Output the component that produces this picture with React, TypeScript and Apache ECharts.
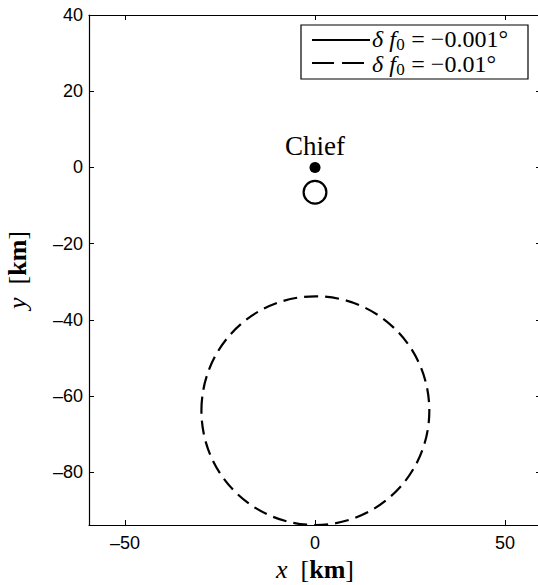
import React, { useEffect, useRef } from "react";
import * as echarts from "echarts";

// ---- data ----
const xTicks = [-50, 0, 50];
const yTicks = [-80, -60, -40, -20, 0, 20, 40];
const xRange = [-59.5, 59.5];
const yRange = [-93.8, 40];

const orbitValues = ["−0.001°", "−0.01°"];
const orbitCenterX = [0, 0.1];
const orbitCenterY = [-6.5, -63.8];
const orbitRadius = [3, 30];
const orbitDash = [false, true];

const chiefPos = [0, 0];
const chiefName = "Chief";

const SERIF = "Liberation Serif";
const SANS = "Liberation Sans";

const mathRich = (size: number) => ({
  i: { fontFamily: SERIF, fontStyle: "italic", fontSize: size, color: "#000" },
  n: { fontFamily: SERIF, fontSize: size, color: "#000" },
  b: { fontFamily: SERIF, fontWeight: "bold", fontSize: size, color: "#000" },
});

const fmt = (v: number) => String(v).replace("-", "–");

function measure(font: string, text: string): number {
  const ctx = document.createElement("canvas").getContext("2d");
  if (!ctx) return text.length * 10;
  ctx.font = font;
  return ctx.measureText(text).width;
}

export default function App() {
  const ref = useRef<HTMLDivElement>(null);
  useEffect(() => {
    if (!ref.current) return;
    const chart = echarts.init(ref.current, undefined, { renderer: "svg" });

    const orbitSeries = orbitValues.map((v, k) => ({
      name: "δf0 = " + v,
      type: "custom",
      coordinateSystem: "cartesian2d",
      xAxisIndex: 0,
      yAxisIndex: 0,
      clip: false,
      data: [[orbitCenterX[k], orbitCenterY[k], orbitRadius[k]]],
      renderItem: (_params: any, api: any) => {
        const c = api.coord([api.value(0), api.value(1)]);
        const r = api.value(2);
        const s = api.size([r, r]);
        return {
          type: "ellipse",
          shape: { cx: c[0], cy: c[1], rx: s[0], ry: s[1] },
          style: {
            fill: "none",
            stroke: "#000",
            lineWidth: 2.2,
            lineDash: orbitDash[k] ? [14, 7] : null,
          },
        };
      },
    }));

    const axisCommon = {
      axisLine: { show: true, onZero: false, lineStyle: { color: "#000", width: 1.2 } },
      axisTick: { show: true, inside: true, length: 5, lineStyle: { color: "#000", width: 1 } },
      splitLine: { show: false },
    };

    const legendX = 301;
    const legendY = 25;
    const legendW = 227;
    const legendH = 54;

    const fItal = `italic 24px '${SERIF}'`;
    const fNorm = `24px '${SERIF}'`;
    const fSub = `17px '${SERIF}'`;
    const legendText = (y: number, value: string) => {
      const x0 = legendX + 71;
      const w1 = measure(fItal, "δ f");
      const w2 = measure(fSub, "0");
      return [
        { type: "text", x: x0, y, z: 101, style: { text: "δ f", font: fItal, fill: "#000", verticalAlign: "middle" } },
        { type: "text", x: x0 + w1 + 0.5, y: y + 5, z: 101, style: { text: "0", font: fSub, fill: "#000", verticalAlign: "middle" } },
        { type: "text", x: x0 + w1 + w2 + 1, y, z: 101, style: { text: " = " + value, font: fNorm, fill: "#000", verticalAlign: "middle" } },
      ];
    };

    chart.setOption({
      animation: false,
      backgroundColor: "#fff",
      grid: { left: 89, top: 15, width: 452, height: 510, containLabel: false, outerBoundsMode: "none" },
      xAxis: [
        {
          type: "value",
          min: xRange[0],
          max: xRange[1],
          position: "bottom",
          ...axisCommon,
          axisTick: { ...axisCommon.axisTick, customValues: xTicks },
          axisLabel: {
            customValues: xTicks,
            formatter: fmt,
            fontFamily: SANS,
            fontSize: 18,
            color: "#000",
            margin: 9,
          },
          name: "{i|x}  [{b|km}]",
          nameLocation: "middle",
          nameGap: 31,
          nameTextStyle: { fontFamily: SERIF, fontSize: 26, color: "#000", rich: mathRich(26) },
        },
        {
          type: "value",
          min: xRange[0],
          max: xRange[1],
          position: "top",
          ...axisCommon,
          axisTick: { ...axisCommon.axisTick, customValues: xTicks },
          axisLabel: { show: false, customValues: xTicks },
        },
      ],
      yAxis: [
        {
          type: "value",
          min: yRange[0],
          max: yRange[1],
          position: "left",
          ...axisCommon,
          axisTick: { ...axisCommon.axisTick, customValues: yTicks },
          axisLabel: {
            customValues: yTicks,
            formatter: fmt,
            fontFamily: SANS,
            fontSize: 18,
            color: "#000",
            margin: 6,
          },
          name: "{i|y}  [{b|km}]",
          nameLocation: "middle",
          nameRotate: 90,
          nameGap: 59,
          nameTextStyle: { fontFamily: SERIF, fontSize: 26, color: "#000", rich: mathRich(26) },
        },
        {
          type: "value",
          min: yRange[0],
          max: yRange[1],
          position: "right",
          ...axisCommon,
          axisTick: { ...axisCommon.axisTick, customValues: yTicks },
          axisLabel: { show: false, customValues: yTicks },
        },
      ],
      series: [
        ...orbitSeries,
        {
          name: chiefName,
          type: "scatter",
          data: [chiefPos],
          symbol: "circle",
          symbolSize: 11,
          itemStyle: { color: "#000", opacity: 1 },
          emphasis: { disabled: true },
          label: {
            show: true,
            position: "top",
            distance: 2,
            formatter: chiefName,
            fontFamily: SERIF,
            fontSize: 27,
            color: "#000",
            opacity: 1,
          },
        },
      ],
      graphic: [
        {
          type: "rect",
          shape: { x: legendX, y: legendY, width: legendW, height: legendH },
          style: { fill: "#fff", stroke: "#000", lineWidth: 1.2 },
          z: 100,
        },
        {
          type: "line",
          shape: { x1: legendX + 11, y1: legendY + 15, x2: legendX + 69, y2: legendY + 15 },
          style: { stroke: "#000", lineWidth: 2.2 },
          z: 101,
        },
        {
          type: "line",
          shape: { x1: legendX + 11, y1: legendY + 38, x2: legendX + 66, y2: legendY + 38 },
          style: { stroke: "#000", lineWidth: 2.2, lineDash: [22, 8] },
          z: 101,
        },
        ...legendText(legendY + 14, orbitValues[0]),
        ...legendText(legendY + 39, orbitValues[1]),
      ],
    });
    return () => chart.dispose();
  }, []);
  return (
    <div
      ref={ref}
      style={{ position: "absolute", left: 0, top: 0, width: 538, height: 585 }}
    />
  );
}
